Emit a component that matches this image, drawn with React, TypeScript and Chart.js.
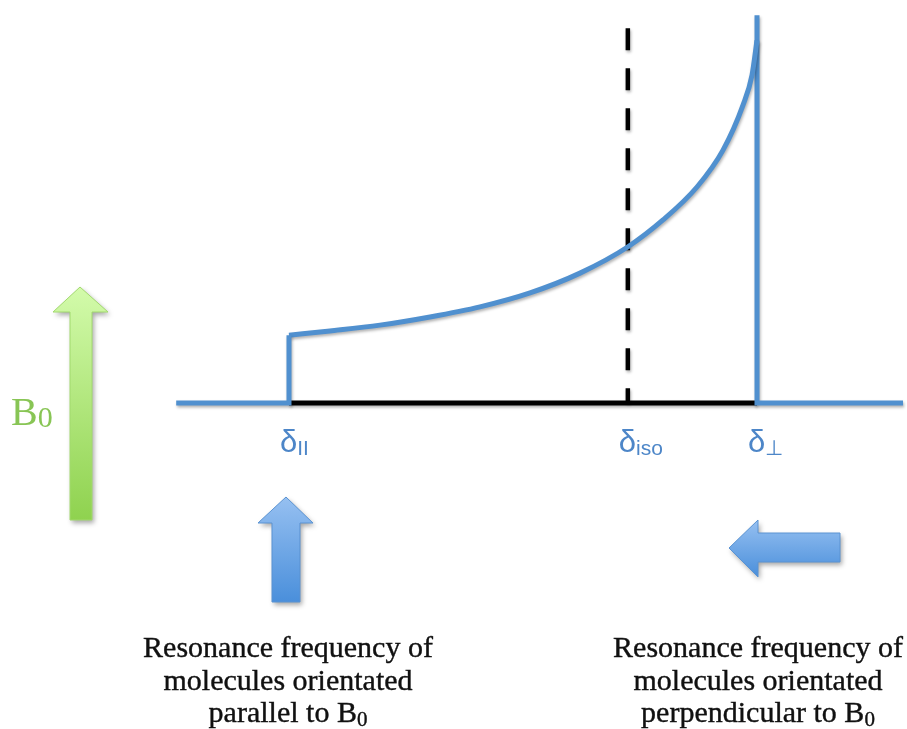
import React, { useEffect, useRef } from "react";
import { Chart, registerables } from "chart.js";

Chart.register(...registerables);

// Chemical shift positions (arbitrary units, δ∥ = 0, δ⊥ = 100)
const shiftParallel = 0;
const shiftIso = 72.4;
const shiftPerp = 100;
const baselineStart = -24.1;
const baselineEnd = 131.2;

// Powder pattern line shape between δ∥ and δ⊥
const curveShift = [0, 8.76, 19.44, 30.13, 40.81, 51.5, 62.18, 72.44, 79.91, 87.18, 92.74, 97.01, 98.93, 100];
const curveIntensity = [17.5, 18.6, 20.1, 22.2, 24.8, 28.4, 33.5, 40.3, 47.2, 55.7, 65.2, 76.8, 84.5, 93.5];
const stepIntensity = 17.5;
const peakTop = 100;
const isoLineTop = 96.6;

// Axis extents
const xMin = -61.75;
const xMax = 132.05;
const yMin = -84;
const yMax = 103.9;

// Shift labels: [symbol, subscript, value]
const shiftLabels: [string, string, number][] = [
  ["δ", "II", shiftParallel],
  ["δ", "iso", shiftIso],
  ["δ", "⊥", shiftPerp],
];

const captionParallel = ["Resonance frequency of", "molecules orientated", "parallel to B"];
const captionPerp = ["Resonance frequency of", "molecules orientated", "perpendicular to B"];

const BLUE = "#5090cf";
const LABEL_BLUE = "#4d86c8";

function arrowPath(ctx: CanvasRenderingContext2D, pts: [number, number][]) {
  ctx.beginPath();
  pts.forEach(([x, y], i) => (i === 0 ? ctx.moveTo(x, y) : ctx.lineTo(x, y)));
  ctx.closePath();
}

function drawArrow(
  ctx: CanvasRenderingContext2D,
  pts: [number, number][],
  grad: CanvasGradient,
  stroke: string
) {
  ctx.save();
  ctx.shadowColor = "rgba(0,0,0,0.35)";
  ctx.shadowBlur = 5;
  ctx.shadowOffsetX = 2;
  ctx.shadowOffsetY = 3;
  arrowPath(ctx, pts);
  ctx.fillStyle = grad;
  ctx.fill();
  ctx.restore();
  ctx.save();
  arrowPath(ctx, pts);
  ctx.strokeStyle = stroke;
  ctx.lineWidth = 1;
  ctx.stroke();
  ctx.restore();
}

function drawWithSub(
  ctx: CanvasRenderingContext2D,
  base: string,
  sub: string,
  x: number,
  y: number,
  baseFont: string,
  subFont: string,
  subDy: number,
  align: "left" | "center",
  outline = false
) {
  ctx.font = baseFont;
  const wb = ctx.measureText(base).width;
  ctx.font = subFont;
  const ws = ctx.measureText(sub).width;
  const start = align === "center" ? x - (wb + ws) / 2 : x;
  ctx.textAlign = "left";
  ctx.textBaseline = "alphabetic";
  ctx.font = baseFont;
  ctx.fillText(base, start, y);
  if (outline) ctx.strokeText(base, start, y);
  ctx.font = subFont;
  ctx.fillText(sub, start + wb, y + subDy);
  if (outline) ctx.strokeText(sub, start + wb, y + subDy);
}

const shadowPlugin = {
  id: "lineShadow",
  beforeDatasetDraw(chart: any) {
    const ctx = chart.ctx;
    ctx.save();
    ctx.shadowColor = "rgba(0,0,0,0.3)";
    ctx.shadowBlur = 3;
    ctx.shadowOffsetX = 1;
    ctx.shadowOffsetY = 2;
  },
  afterDatasetDraw(chart: any) {
    chart.ctx.restore();
  },
};

const annotationPlugin = {
  id: "annotations",
  afterDraw(chart: any) {
    const ctx: CanvasRenderingContext2D = chart.ctx;
    const xs = chart.scales.x;
    const ys = chart.scales.y;
    const baseY = ys.getPixelForValue(0);

    // shift labels under the baseline
    ctx.save();
    ctx.fillStyle = LABEL_BLUE;
    shiftLabels.forEach(([sym, sub, v]) => {
      const px = xs.getPixelForValue(v);
      const left = px - 9;
      ctx.font = "31px 'Liberation Sans', Arial, sans-serif";
      ctx.textAlign = "left";
      ctx.textBaseline = "alphabetic";
      ctx.fillText(sym, left, baseY + 49);
      const w = ctx.measureText(sym).width;
      ctx.font = "21px 'Liberation Sans', Arial, sans-serif";
      ctx.fillText(sub, left + w, baseY + 52);
    });
    ctx.restore();

    // B0 field arrow (green)
    ctx.save();
    const g = ctx.createLinearGradient(0, 287, 0, 520);
    g.addColorStop(0, "#d3fbab");
    g.addColorStop(1, "#8fd24f");
    drawArrow(
      ctx,
      [
        [80, 287],
        [108, 312],
        [92, 312],
        [92, 520],
        [70, 520],
        [70, 312],
        [53, 312],
      ],
      g,
      "#a2d96e"
    );
    ctx.fillStyle = "#88c555";
    drawWithSub(ctx, "B", "0", 11, 425, "40px 'Liberation Serif', serif", "30px 'Liberation Serif', serif", 2, "left");
    ctx.restore();

    // arrow pointing at δ∥
    const pPar = xs.getPixelForValue(shiftParallel);
    const cx = pPar - 3;
    const gb = ctx.createLinearGradient(0, 497, 0, 602);
    gb.addColorStop(0, "#96c0f1");
    gb.addColorStop(1, "#4a8fdb");
    drawArrow(
      ctx,
      [
        [cx, 497],
        [cx + 27, 523],
        [cx + 14, 523],
        [cx + 14, 602],
        [cx - 14, 602],
        [cx - 14, 523],
        [cx - 28, 523],
      ],
      gb,
      "#5a93d2"
    );

    // arrow pointing toward δ⊥
    const pPerp = xs.getPixelForValue(shiftPerp);
    const tip = pPerp - 28;
    const gl = ctx.createLinearGradient(0, 520, 0, 577);
    gl.addColorStop(0, "#96c0f1");
    gl.addColorStop(1, "#4a8fdb");
    drawArrow(
      ctx,
      [
        [tip, 548],
        [tip + 29, 520],
        [tip + 29, 533],
        [tip + 111, 533],
        [tip + 111, 562],
        [tip + 29, 562],
        [tip + 29, 577],
      ],
      gl,
      "#5a93d2"
    );

    // captions
    ctx.save();
    ctx.fillStyle = "#111111";
    ctx.strokeStyle = "#111111";
    ctx.lineWidth = 0.4;
    const font = "30px 'Liberation Serif', serif";
    const subFont = "21px 'Liberation Serif', serif";
    const rows = [657, 690, 722];
    const captions: [string[], number][] = [
      [captionParallel, pPar - 1],
      [captionPerp, pPerp + 1],
    ];
    captions.forEach(([lines, center]) => {
      lines.forEach((line, i) => {
        if (i === lines.length - 1) {
          drawWithSub(ctx, line, "0", center, rows[i], font, subFont, 4, "center", true);
        } else {
          ctx.font = font;
          ctx.textAlign = "center";
          ctx.textBaseline = "alphabetic";
          ctx.fillText(line, center, rows[i]);
          ctx.strokeText(line, center, rows[i]);
        }
      });
    });
    ctx.restore();
  },
};

export default function App() {
  const canvasRef = useRef<HTMLCanvasElement | null>(null);

  useEffect(() => {
    if (!canvasRef.current) return;
    const curve = curveShift.map((x, i) => ({ x, y: curveIntensity[i] }));
    const chart = new Chart(canvasRef.current, {
      type: "scatter",
      data: {
        datasets: [
          {
            label: "left edge",
            data: [
              { x: baselineStart, y: 0 },
              { x: shiftParallel, y: 0 },
              { x: shiftParallel, y: stepIntensity },
            ],
            showLine: true,
            borderColor: BLUE,
            borderWidth: 5,
            pointRadius: 0,
            borderJoinStyle: "miter",
            order: 0,
          },
          {
            label: "line shape",
            data: curve,
            showLine: true,
            borderColor: BLUE,
            borderWidth: 5,
            pointRadius: 0,
            cubicInterpolationMode: "monotone",
            tension: 0.4,
            order: 0,
          },
          {
            label: "right edge",
            data: [
              { x: shiftPerp, y: peakTop },
              { x: shiftPerp, y: 0 },
              { x: baselineEnd, y: 0 },
            ],
            showLine: true,
            borderColor: BLUE,
            borderWidth: 5,
            pointRadius: 0,
            borderJoinStyle: "miter",
            order: 0,
          },
          {
            label: "isotropic shift",
            data: [
              { x: shiftIso, y: isoLineTop },
              { x: shiftIso, y: 0 },
            ],
            showLine: true,
            borderColor: "#000000",
            borderWidth: 4.5,
            borderDash: [22, 18],
            pointRadius: 0,
            order: 1,
          },
          {
            label: "baseline",
            data: [
              { x: shiftParallel, y: 0 },
              { x: shiftPerp, y: 0 },
            ],
            showLine: true,
            borderColor: "#000000",
            borderWidth: 5,
            pointRadius: 0,
            order: 2,
          },
        ],
      },
      options: {
        responsive: false,
        animation: false,
        devicePixelRatio: 1,
        layout: { padding: 0 },
        events: [],
        plugins: {
          legend: { display: false },
          tooltip: { enabled: false },
          title: { display: false },
        },
        scales: {
          x: { type: "linear", min: xMin, max: xMax, display: false },
          y: { type: "linear", min: yMin, max: yMax, display: false },
        },
      },
      plugins: [shadowPlugin, annotationPlugin],
    });
    return () => chart.destroy();
  }, []);

  return (
    <div style={{ position: "fixed", left: 0, top: 0, width: 907, height: 729, background: "#ffffff" }}>
      <canvas ref={canvasRef} width={907} height={729} />
    </div>
  );
}
